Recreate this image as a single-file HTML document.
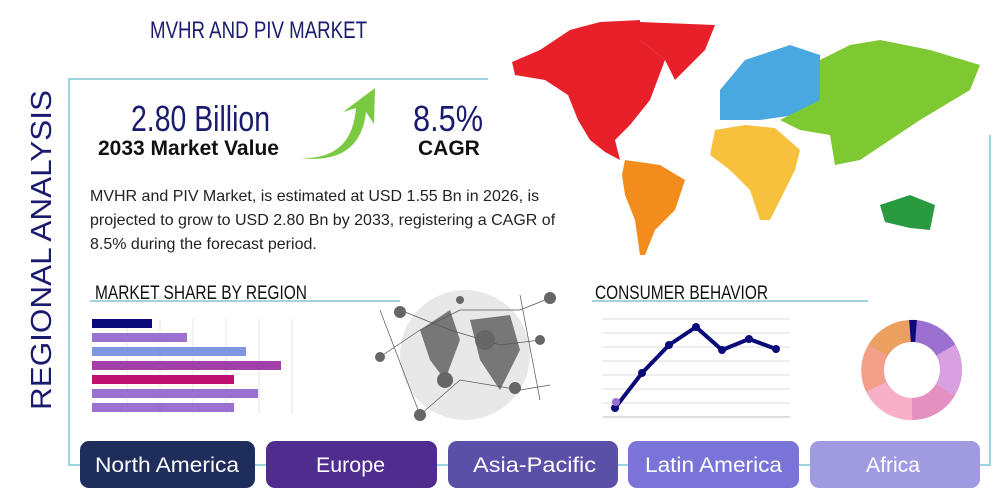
<!DOCTYPE html>
<html><head><meta charset="utf-8"><style>
body{margin:0;width:1000px;height:500px;background:#fff;position:relative;overflow:hidden;font-family:"Liberation Sans",sans-serif}
.a{position:absolute}
.btn{position:absolute;top:441px;height:47px;border-radius:9px}
</style></head><body>
<div class="btn" style="left:80px;width:175px;background:#1f2d5c"></div>
<div class="btn" style="left:266px;width:171px;background:#4f2d8f"></div>
<div class="btn" style="left:448px;width:170px;background:#5a50a8"></div>
<div class="btn" style="left:628px;width:171px;background:#7b74d8"></div>
<div class="btn" style="left:810px;width:170px;background:#a09ae0"></div>
<div class="a" style="left:98px;top:137px;font-size:21px;font-weight:bold;color:#111">2033 Market Value</div>
<div class="a" style="left:418px;top:137px;font-size:21px;font-weight:bold;color:#111">CAGR</div>
<div class="a" style="left:90px;top:185px;width:480px;font-size:16px;line-height:24px;color:#222">MVHR and PIV Market, is estimated at USD 1.55 Bn in 2026, is projected to grow to USD 2.80 Bn by 2033, registering a CAGR of 8.5% during the forecast period.</div>
<svg class="a" style="left:0;top:0" width="1000" height="500" font-family="Liberation Sans, sans-serif">
<polyline points="488,79 69,79 69,465 80,465" fill="none" stroke="#9fd3e0" stroke-width="2"/>
<polyline points="980,465 990,465 990,135" fill="none" stroke="#9fd3e0" stroke-width="2"/>
<g stroke="#9fd3e0" stroke-width="2"><line x1="255" y1="465" x2="266" y2="465"/><line x1="437" y1="465" x2="448" y2="465"/><line x1="618" y1="465" x2="628" y2="465"/><line x1="799" y1="465" x2="810" y2="465"/></g>
<g fill="#1a1a6e" lengthAdjust="spacingAndGlyphs">
<text x="150" y="38" font-size="24" textLength="217" lengthAdjust="spacingAndGlyphs">MVHR AND PIV MARKET</text>
<text x="131" y="131" font-size="36" textLength="139" lengthAdjust="spacingAndGlyphs">2.80 Billion</text>
<text x="413" y="131" font-size="36" textLength="70" lengthAdjust="spacingAndGlyphs">8.5%</text>
<text transform="translate(51,410) rotate(-90)" font-size="29" textLength="320" lengthAdjust="spacingAndGlyphs">REGIONAL ANALYSIS</text>
</g>
<text x="95" y="299" font-size="19" fill="#111" textLength="212" lengthAdjust="spacingAndGlyphs">MARKET SHARE BY REGION</text>
<text x="595" y="299" font-size="19" fill="#111" textLength="173" lengthAdjust="spacingAndGlyphs">CONSUMER BEHAVIOR</text>
<g fill="#fff" font-size="21">
<text x="95" y="472" textLength="144" lengthAdjust="spacingAndGlyphs">North America</text>
<text x="316" y="472" textLength="69" lengthAdjust="spacingAndGlyphs">Europe</text>
<text x="473" y="472" textLength="123" lengthAdjust="spacingAndGlyphs">Asia-Pacific</text>
<text x="645" y="472" textLength="137" lengthAdjust="spacingAndGlyphs">Latin America</text>
<text x="866" y="472" textLength="54" lengthAdjust="spacingAndGlyphs">Africa</text>
</g>
<!-- arrow -->
<path d="M300,158 Q352,160 356,108 L343,112 L375,88 L374,124 L366,112 Q360,165 300,158Z" fill="#7ac943"/>
<!-- map -->
<polygon points="512,62 540,50 570,30 600,22 640,20 640,40 665,60 650,100 630,125 615,140 620,160 605,152 590,140 578,120 568,95 545,80 515,75" fill="#e8202a"/>
<polygon points="640,22 715,25 705,50 675,80 665,60 640,40" fill="#e8202a"/>
<polygon points="625,160 660,165 685,180 675,210 655,230 645,255 640,255 635,220 625,195 622,175" fill="#f28c1c"/>
<polygon points="720,90 745,60 790,45 820,55 820,100 795,115 760,120 720,120" fill="#4aa8e0"/>
<polygon points="820,60 850,45 880,40 930,50 980,65 970,90 920,120 890,140 860,160 835,165 830,135 800,130 780,120 820,100" fill="#7ec832"/>
<polygon points="715,130 745,125 775,128 800,150 795,170 785,190 770,220 760,220 750,190 730,170 710,155" fill="#f7c13d"/>
<polygon points="880,205 910,195 935,205 930,230 910,228 885,222" fill="#2a9a40"/>
<line x1="90" y1="301" x2="400" y2="301" stroke="#9fd3e0" stroke-width="2"/>
<line x1="592" y1="301" x2="868" y2="301" stroke="#9fd3e0" stroke-width="2"/>
<g stroke="#e4e4e4"><line x1="127" y1="319" x2="127" y2="414"/><line x1="160" y1="319" x2="160" y2="414"/><line x1="193" y1="319" x2="193" y2="414"/><line x1="226" y1="319" x2="226" y2="414"/><line x1="259" y1="319" x2="259" y2="414"/><line x1="292" y1="319" x2="292" y2="414"/></g>
<rect x="92" y="319" width="60" height="9" fill="#0a0a7a"/>
<rect x="92" y="333" width="95" height="9" fill="#9a70d0"/>
<rect x="92" y="347" width="154" height="9" fill="#7f96e0"/>
<rect x="92" y="361" width="189" height="9" fill="#a040a8"/>
<rect x="92" y="375" width="142" height="9" fill="#c0106f"/>
<rect x="92" y="389" width="166" height="9" fill="#9a70d0"/>
<rect x="92" y="403" width="142" height="9" fill="#9a70d0"/>
<circle cx="465" cy="355" r="65" fill="#e8e8e8"/>
<path d="M420,330 L450,310 L460,340 L445,380 L430,360Z M470,320 L510,315 L520,350 L500,390 L480,360Z" fill="#777"/>
<g stroke="#555" stroke-width="0.7" fill="none"><path d="M380,357 L420,330 L460,310 L520,310 L550,298 M400,310 L450,330 L500,345 L540,340 M420,415 L460,380 L520,390 L550,385 M380,310 L420,415 M520,295 L540,400"/></g>
<g fill="#666"><circle cx="380" cy="357" r="5"/><circle cx="400" cy="312" r="6"/><circle cx="420" cy="415" r="6"/><circle cx="550" cy="298" r="6"/><circle cx="540" cy="340" r="5"/><circle cx="515" cy="388" r="6"/><circle cx="485" cy="340" r="10"/><circle cx="445" cy="380" r="8"/><circle cx="460" cy="300" r="4"/></g>
<g stroke="#ddd"><line x1="603" y1="319" x2="790" y2="319"/><line x1="603" y1="333" x2="790" y2="333"/><line x1="603" y1="347" x2="790" y2="347"/><line x1="603" y1="361" x2="790" y2="361"/><line x1="603" y1="375" x2="790" y2="375"/><line x1="603" y1="389" x2="790" y2="389"/><line x1="603" y1="403" x2="790" y2="403"/><line x1="603" y1="417" x2="790" y2="417" stroke="#bbb"/></g>
<polyline points="615,408 642,373 669,345 696,327 722,350 749,339 776,349" fill="none" stroke="#0a0a7a" stroke-width="4"/>
<g fill="#0a0a7a"><circle cx="615" cy="408" r="4"/><circle cx="642" cy="373" r="4"/><circle cx="669" cy="345" r="4"/><circle cx="696" cy="327" r="4"/><circle cx="722" cy="350" r="4"/><circle cx="749" cy="339" r="4"/><circle cx="776" cy="349" r="4"/></g>
<circle cx="616" cy="402" r="4" fill="#9a70d0"/>
<g fill="none" stroke-width="22">
<circle cx="912" cy="370" r="39" stroke="#e8a0c0"/>
<path d="M912,331 A39,39 0 0 1 946,350" stroke="#9a70d0"/>
<path d="M946,350 A39,39 0 0 1 945,390" stroke="#d8a0e0"/>
<path d="M945,390 A39,39 0 0 1 912,409" stroke="#e490c0"/>
<path d="M912,409 A39,39 0 0 1 876,387" stroke="#f8b0c8"/>
<path d="M876,387 A39,39 0 0 1 878,350" stroke="#f4a088"/>
<path d="M878,350 A39,39 0 0 1 912,331" stroke="#eba060"/>
<path d="M910,331 A39,39 0 0 1 916,331" stroke="#0a0a7a"/>
</g>
</svg>
</body></html>
